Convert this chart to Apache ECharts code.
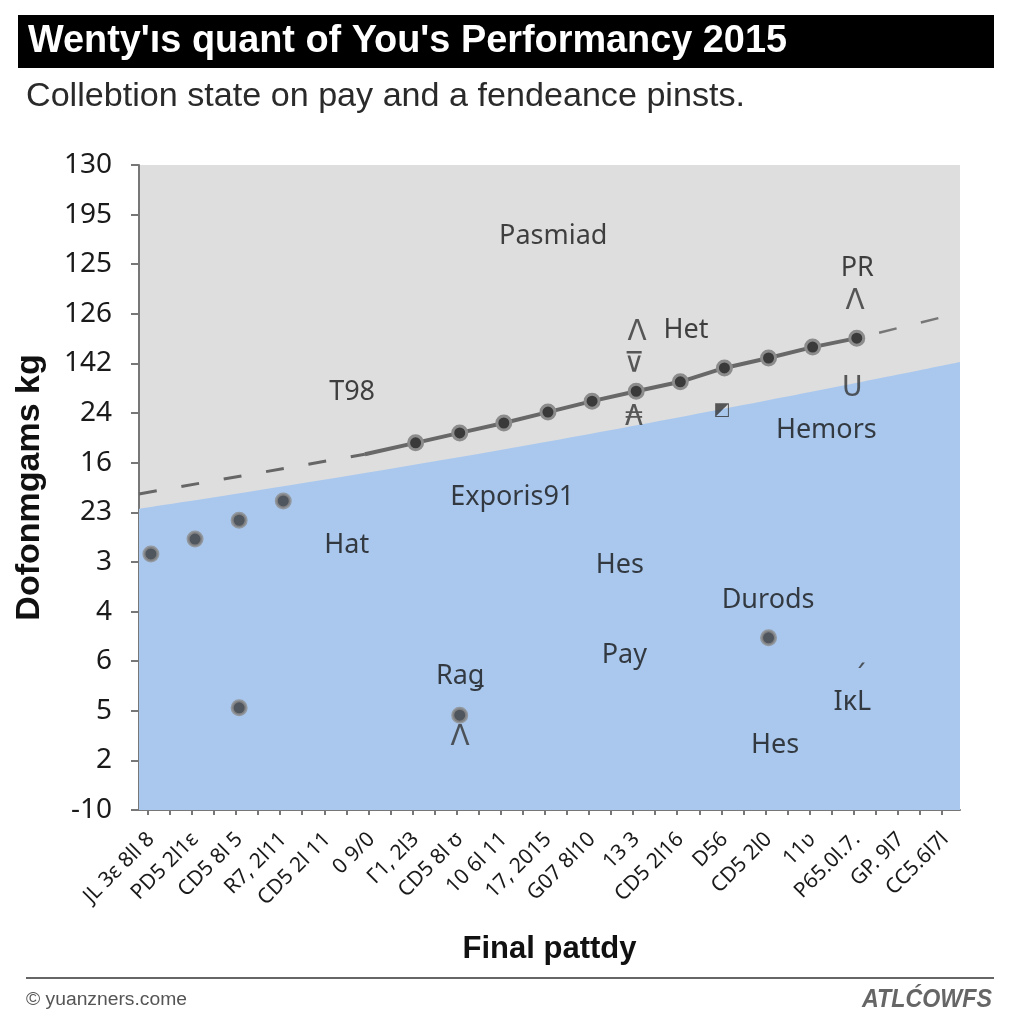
<!DOCTYPE html>
<html>
<head>
<meta charset="utf-8">
<script src="https://cdn.jsdelivr.net/npm/echarts@6/dist/echarts.min.js"></script>
<style>html,body{margin:0;padding:0;background:#fff}#c{width:1024px;height:1024px}</style>
</head>
<body>
<div id="c"></div>
<script>
// ---- data ----
const xLabels = ["JL 3ɛ 8ll 8","PD5 2l1ɛ","CD5 8l 5","R7, 2l11","CD5 2l 11","0 9/0","Γ1, 2l3","CD5 8l ʊ","10 6l 11","17, 2015","G07 8l10","13 3","CD5 2l16","D56","CD5 2l0","11ʋ","P65.0l.7.","GP. 9l7","CC5.6l7l"];
const yLabels = ["-10","2","5","6","4","3","23","16","24","142","126","125","195","130"];
const boundaryX = [-0.27, 8.59, 18.34];
const boundaryY = [6.07, 7.36, 9.03];
const trendX = [4.85, 6, 7, 8, 9, 10, 11, 12, 13, 14, 15, 16];
const trendY = [7.17, 7.40, 7.60, 7.80, 8.02, 8.24, 8.44, 8.63, 8.91, 9.11, 9.33, 9.51];
const dashLeftX = [-0.27, 4.85];
const dashLeftY = [6.37, 7.17];
const dashRightX = [16, 18.34];
const dashRightY = [9.51, 10.02];
const leftDotsX = [0, 1, 2, 3];
const leftDotsY = [5.16, 5.46, 5.84, 6.23];
const loneDotsX = [2, 7, 14];
const loneDotsY = [2.06, 1.91, 3.47];
const noteText = ["Pasmiad","PR","Het","T98","Hemors","Exporis91","Hat","Hes","Durods","Pay","Raǥ","IĸL","Hes"];
const noteX = [9.12, 16.01, 12.13, 4.56, 15.31, 8.19, 4.44, 10.63, 13.99, 10.73, 7.01, 15.9, 14.15];
const noteY = [11.57, 10.92, 9.67, 8.42, 7.66, 6.31, 5.34, 4.94, 4.23, 3.12, 2.70, 2.18, 1.31];
const glyphText = ["Λ","U","Λ","⊽","₳","◩","Λ","ˊ"];
const glyphSize = [28, 28, 28, 28, 28, 18, 28, 28];
const glyphX = [15.96, 15.90, 11.02, 10.95, 10.95, 12.95, 7.01, 16.08];
const glyphY = [10.24, 8.50, 9.61, 8.97, 7.90, 8.06, 1.45, 2.64];

const zip = (xs, ys) => xs.map((x, i) => [x, ys[i]]);
const trendData = zip(trendX, trendY).map((p, i) => i === 0 ? {value: p, symbol: 'none'} : p);
const dotStyle = {color: '#3a3a3a', borderColor: '#8c8c8c', borderWidth: 3};

// fit text widths to the reference
const ctx = document.createElement('canvas').getContext('2d');
function fitScale(text, font, width) { ctx.font = font; return width / ctx.measureText(text).width; }
const titleText = "Wenty'ıs quant of You's Performancy 2015";
const titleFont = 'bold 38px "Liberation Sans"';
const titleScale = fitScale(titleText, titleFont, 759);
const subText = 'Collebtion state on pay and a fendeance pinsts.';
const subFont = '33px "Liberation Sans"';
const subScale = fitScale(subText, subFont, 719);
const credText = '© yuanzners.come';
const credFont = '18px "Liberation Sans"';
const credScale = fitScale(credText, credFont, 161);
const brandText = 'ATLĆOWFS';
const brandFont = 'italic bold 26px "Liberation Sans"';
const brandScale = fitScale(brandText, brandFont, 130);

const chart = echarts.init(document.getElementById('c'), null, {renderer: 'canvas'});
chart.setOption({
  animation: false,
  backgroundColor: '#ffffff',
  grid: {left: 139, top: 165, right: 64, bottom: 214, show: true, backgroundColor: '#dedede', borderWidth: 0,
         containLabel: false, outerBoundsMode: 'none'},
  xAxis: {
    type: 'value', min: -0.27, max: 18.34,
    name: 'Final pattdy', nameLocation: 'middle', nameGap: 124,
    nameTextStyle: {fontFamily: 'Liberation Sans', fontWeight: 'bold', fontSize: 31, color: '#111'},
    axisLine: {show: true, onZero: false, lineStyle: {color: '#777', width: 2}},
    axisTick: {show: true, length: 5, lineStyle: {color: '#777', width: 2},
      customValues: Array.from({length: 37}, (_, k) => -0.07 + 0.5 * k)},
    axisLabel: {customValues: xLabels.map((_, i) => i), rotate: 45, margin: 26,
      fontFamily: 'Noto Sans', fontSize: 21, color: '#1a1a1a',
      formatter: v => xLabels[Math.round(v)]},
    splitLine: {show: false}
  },
  yAxis: {
    type: 'value', min: 0, max: 13, interval: 1,
    name: 'Dofonmgams kg', nameLocation: 'middle', nameGap: 92, nameRotate: 90,
    nameTextStyle: {fontFamily: 'Liberation Sans', fontWeight: 'bold', fontSize: 34, color: '#111'},
    axisLine: {show: true, onZero: false, lineStyle: {color: '#777', width: 2}},
    axisTick: {show: true, length: 8, lineStyle: {color: '#777', width: 2}},
    axisLabel: {margin: 27, fontFamily: 'Noto Sans', fontSize: 28, color: '#1a1a1a',
      formatter: v => yLabels[v]},
    splitLine: {show: false}
  },
  series: [
    {type: 'line', data: zip(boundaryX, boundaryY), smooth: true, symbol: 'none',
     lineStyle: {width: 0}, areaStyle: {color: '#aac8ed', opacity: 1, origin: 'start'}, z: 1},
    {type: 'line', data: zip(dashLeftX, dashLeftY), symbol: 'none',
     lineStyle: {color: '#666', width: 3, type: [18, 25]}, z: 2},
    {type: 'line', data: zip(dashRightX, dashRightY), symbol: 'none',
     lineStyle: {color: '#777', width: 2.5, type: [18, 25], dashOffset: 20}, z: 2},
    {type: 'line', data: trendData, symbol: 'circle', symbolSize: 14,
     lineStyle: {color: '#686868', width: 4}, itemStyle: dotStyle, z: 3},
    {type: 'scatter', data: zip(leftDotsX, leftDotsY), symbolSize: 14, itemStyle: dotStyle, z: 3},
    {type: 'scatter', data: zip(loneDotsX, loneDotsY), symbolSize: 14, itemStyle: dotStyle, z: 3},
    {type: 'scatter', data: noteText.map((t, i) => ({value: [noteX[i], noteY[i]], name: t})),
     symbolSize: 1, itemStyle: {color: 'rgba(0,0,0,0)'}, z: 4,
     label: {show: true, position: 'inside', formatter: p => p.name,
       fontFamily: 'Noto Sans', fontSize: 27, color: '#151515'}},
    {type: 'scatter', data: glyphText.map((t, i) => ({value: [glyphX[i], glyphY[i]], name: t,
       label: {fontSize: glyphSize[i]}})),
     symbolSize: 1, itemStyle: {color: 'rgba(0,0,0,0)'}, z: 4,
     label: {show: true, position: 'inside', formatter: p => p.name,
       fontFamily: 'DejaVu Sans', fontSize: 28, color: '#333'}}
  ],
  graphic: [
    {type: 'rect', shape: {x: 18, y: 15, width: 976, height: 53}, style: {fill: '#000'}, silent: true},
    {type: 'text', x: 28, y: 42, scaleX: titleScale, style: {text: titleText, fill: '#fff',
      font: titleFont, textVerticalAlign: 'middle'}},
    {type: 'text', x: 26, y: 97, scaleX: subScale, style: {text: subText, fill: '#2a2a2a',
      font: subFont, textVerticalAlign: 'middle'}},
    {type: 'line', shape: {x1: 26, y1: 978, x2: 994, y2: 978}, style: {stroke: '#333', lineWidth: 1.5}},
    {type: 'text', x: 26, y: 1000, scaleX: credScale, style: {text: credText, fill: '#555',
      font: credFont, textVerticalAlign: 'middle'}},
    {type: 'text', x: 992, y: 1000, scaleX: brandScale, style: {text: brandText, fill: '#666', textAlign: 'right',
      font: brandFont, textVerticalAlign: 'middle'}}
  ]
});
</script>
</body>
</html>
